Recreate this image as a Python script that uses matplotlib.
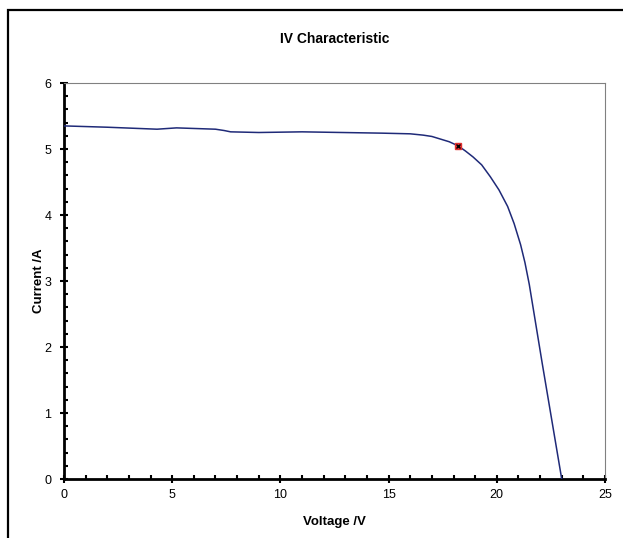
import matplotlib
matplotlib.use("Agg")
import matplotlib.pyplot as plt
from matplotlib.ticker import MultipleLocator
from matplotlib.patches import Rectangle

plt.rcParams['font.family'] = ['Liberation Sans', 'DejaVu Sans']

voltage = [0, 2, 4.3, 5.2, 7.0, 7.4, 7.7, 9.0, 11.0, 14.7, 16.0, 16.6, 17.0, 17.4, 17.8, 18.2,
           18.55, 18.9, 19.3, 19.7, 20.1, 20.5, 20.8, 21.1, 21.3, 21.5, 22.1, 23.0]
current = [5.35, 5.33, 5.30, 5.32, 5.30, 5.28, 5.26, 5.25, 5.26, 5.24, 5.23, 5.21, 5.19, 5.15, 5.11, 5.05,
           4.97, 4.88, 4.76, 4.58, 4.38, 4.13, 3.87, 3.55, 3.28, 2.95, 1.75, 0.0]
mpp_v = [18.2]
mpp_i = [5.05]

W, H = 623, 538
fig = plt.figure(figsize=(W/100, H/100), dpi=100)
ax = fig.add_axes([64/W, (H-479)/H, 541/W, 396/H])

ax.plot(voltage, current, color='#1f2a78', lw=1.1, zorder=3, solid_joinstyle='round')
ax.plot(mpp_v, mpp_i, marker='s', ms=5, color='#e03030', mec='#e03030', ls='none', zorder=4)
ax.plot(mpp_v, mpp_i, marker='x', ms=3, color='black', mew=1, ls='none', zorder=5)

ax.set_xlim(0, 25)
ax.set_ylim(0, 6)
ax.xaxis.set_major_locator(MultipleLocator(5))
ax.xaxis.set_minor_locator(MultipleLocator(1))
ax.yaxis.set_major_locator(MultipleLocator(1))
ax.yaxis.set_minor_locator(MultipleLocator(0.2))

for s in ['left', 'bottom']:
    ax.spines[s].set_linewidth(2)
    ax.spines[s].set_color('black')
for s in ['top', 'right']:
    ax.spines[s].set_linewidth(0.8)
    ax.spines[s].set_color('#808080')

ax.tick_params(which='major', direction='inout', length=6, width=1.5, labelsize=9)
ax.tick_params(axis='x', which='major', pad=4)
ax.tick_params(axis='y', which='major', pad=6)
ax.tick_params(which='minor', direction='in', length=3, width=1.5)
ax.tick_params(axis='y', which='both', right=False)
ax.tick_params(axis='x', which='both', top=False)

ax.set_title('IV Characteristic', fontsize=10, fontweight='bold', pad=29)
ax.set_xlabel('Voltage /V', fontsize=9.5, fontweight='bold', labelpad=11)
ax.set_ylabel('Current /A', fontsize=9.5, fontweight='bold', labelpad=0)

fig.patches.append(Rectangle((8/W, -0.1), 1.2, (H-10)/H + 0.1, transform=fig.transFigure,
                             fill=False, ec='black', lw=1.6))

fig.savefig('out.png', dpi=100)
